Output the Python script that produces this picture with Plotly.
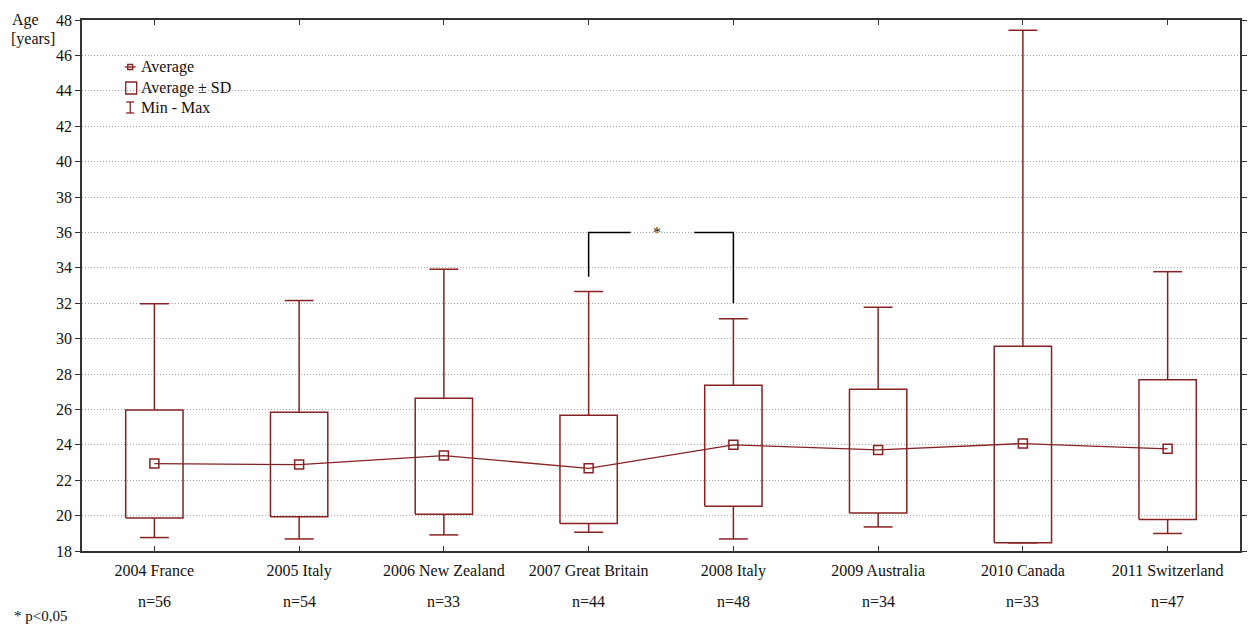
import plotly.graph_objects as go

# Age of participants per edition
categories = ["2004 France", "2005 Italy", "2006 New Zealand", "2007 Great Britain",
              "2008 Italy", "2009 Australia", "2010 Canada", "2011 Switzerland"]
sample_sizes = [56, 54, 33, 44, 48, 34, 33, 47]
age_mean = [22.94, 22.88, 23.39, 22.67, 24.00, 23.71, 24.07, 23.77]
age_sd_low = [19.86, 19.94, 20.07, 19.55, 20.53, 20.15, 18.46, 19.78]
age_sd_high = [25.97, 25.84, 26.63, 25.67, 27.37, 27.14, 29.57, 27.67]
age_min = [18.76, 18.68, 18.91, 19.06, 18.68, 19.36, 18.46, 18.99]
age_max = [31.97, 32.15, 33.92, 32.66, 31.12, 31.77, 47.42, 33.78]

# significance bracket between 2007 Great Britain and 2008 Italy
bracket_pair = (3, 4)
bracket_level = 36
bracket_left_end = 33.5
bracket_right_end = 32.0

RED = "#862222"
FONT = "Liberation Serif"
BOX_HALF = 0.198
CAP_HALF = 0.1

# plot area in pixels (for legend placement)
L, R, T, B = 82, 1247, 20, 551
W, H = 1249, 625


def px(x):
    return (x - L) / (R - L)


def py(y):
    return (B - y) / (B - T)


fig = go.Figure()

# SD boxes
bx, by = [], []
for i in range(len(categories)):
    lo, hi = age_sd_low[i], age_sd_high[i]
    bx += [i - BOX_HALF, i + BOX_HALF, i + BOX_HALF, i - BOX_HALF, i - BOX_HALF, None]
    by += [lo, lo, hi, hi, lo, None]
fig.add_trace(go.Scatter(x=bx, y=by, mode="lines", line=dict(color=RED, width=1.5),
                         hoverinfo="skip", showlegend=False))

# min-max whiskers with caps
wx, wy = [], []
for i in range(len(categories)):
    wx += [i, i, None, i - CAP_HALF, i + CAP_HALF, None]
    wy += [age_sd_high[i], age_max[i], None, age_max[i], age_max[i], None]
    wx += [i, i, None, i - CAP_HALF, i + CAP_HALF, None]
    wy += [age_sd_low[i], age_min[i], None, age_min[i], age_min[i], None]
fig.add_trace(go.Scatter(x=wx, y=wy, mode="lines", line=dict(color=RED, width=1.5),
                         hoverinfo="skip", showlegend=False))

# averages
fig.add_trace(go.Scatter(x=list(range(len(categories))), y=age_mean, mode="lines+markers",
                         line=dict(color=RED, width=1.3),
                         marker=dict(symbol="square-open", size=9, color=RED,
                                     line=dict(width=1.5, color=RED)),
                         showlegend=False))

# significance bracket
a, b = bracket_pair
fig.add_trace(go.Scatter(
    x=[a, a, a + 0.29, None, b - 0.27, b, b],
    y=[bracket_left_end, bracket_level, bracket_level, None, bracket_level, bracket_level, bracket_right_end],
    mode="lines", line=dict(color="black", width=1.5), hoverinfo="skip", showlegend=False))
fig.add_annotation(x=(a + b) / 2 - 0.03, y=bracket_level, text="*", showarrow=False,
                   font=dict(family=FONT, size=16, color="#222"), yanchor="middle")

shapes = []
# legend: Average
shapes.append(dict(type="line", xref="paper", yref="paper", x0=px(125), x1=px(136),
                   y0=py(67), y1=py(67), line=dict(color=RED, width=1.3)))
shapes.append(dict(type="rect", xref="paper", yref="paper", x0=px(128), x1=px(133),
                   y0=py(64.5), y1=py(69.5), line=dict(color=RED, width=1.3)))
# legend: Average ± SD
shapes.append(dict(type="rect", xref="paper", yref="paper", x0=px(126), x1=px(137),
                   y0=py(82), y1=py(94), line=dict(color=RED, width=1.3)))
# legend: Min - Max
shapes.append(dict(type="line", xref="paper", yref="paper", x0=px(130.5), x1=px(130.5),
                   y0=py(102), y1=py(113), line=dict(color=RED, width=1.3)))
shapes.append(dict(type="line", xref="paper", yref="paper", x0=px(126.5), x1=px(134.5),
                   y0=py(102), y1=py(102), line=dict(color=RED, width=1.3)))
shapes.append(dict(type="line", xref="paper", yref="paper", x0=px(126.5), x1=px(134.5),
                   y0=py(113), y1=py(113), line=dict(color=RED, width=1.3)))

legend_texts = [("Average", 66.5), ("Average ± SD", 87.5), ("Min - Max", 107)]
for txt, yy in legend_texts:
    fig.add_annotation(xref="paper", yref="paper", x=px(139), y=py(yy), text=txt,
                       showarrow=False, xanchor="left", yanchor="middle",
                       font=dict(family=FONT, size=16, color="#111"))

# sample sizes under the category labels
for i, n in enumerate(sample_sizes):
    fig.add_annotation(x=i, xref="x", yref="paper", y=py(601), text=f"n={n}",
                       showarrow=False, yanchor="middle",
                       font=dict(family=FONT, size=16, color="#111"))

# axis caption and footnote
fig.add_annotation(xref="paper", yref="paper", x=px(10), y=py(20), text="Age",
                   showarrow=False, xanchor="left", yanchor="middle",
                   font=dict(family=FONT, size=16, color="#111"))
fig.add_annotation(xref="paper", yref="paper", x=px(9), y=py(39), text="[years]",
                   showarrow=False, xanchor="left", yanchor="middle",
                   font=dict(family=FONT, size=16, color="#111"))
fig.add_annotation(xref="paper", yref="paper", x=px(12), y=py(616), text="* p&lt;0,05",
                   showarrow=False, xanchor="left", yanchor="middle",
                   font=dict(family=FONT, size=15, color="#111"))

fig.update_layout(
    width=W, height=H,
    margin=dict(l=L, r=W - R, t=T, b=H - B),
    paper_bgcolor="white", plot_bgcolor="white",
    font=dict(family=FONT, size=16, color="#111"),
    shapes=shapes,
    showlegend=False,
    xaxis=dict(range=[-0.5, len(categories) - 0.5], tickvals=list(range(len(categories))),
               ticktext=categories, ticks="inside", ticklen=5, tickcolor="#333",
               showline=True, linecolor="#333", linewidth=1.5, mirror="ticks",
               ticklabelstandoff=4,
               showgrid=False, zeroline=False, tickfont=dict(family=FONT, size=16)),
    yaxis=dict(range=[18, 48], dtick=2, ticks="outside", ticklen=5, tickcolor="#333",
               showline=True, linecolor="#333", linewidth=1.5, mirror="ticks",
               showgrid=True, gridcolor="#a8a8a8", griddash="1px,2px", gridwidth=1,
               zeroline=False, tickfont=dict(family=FONT, size=16)),
)

fig.write_html("out.html")
